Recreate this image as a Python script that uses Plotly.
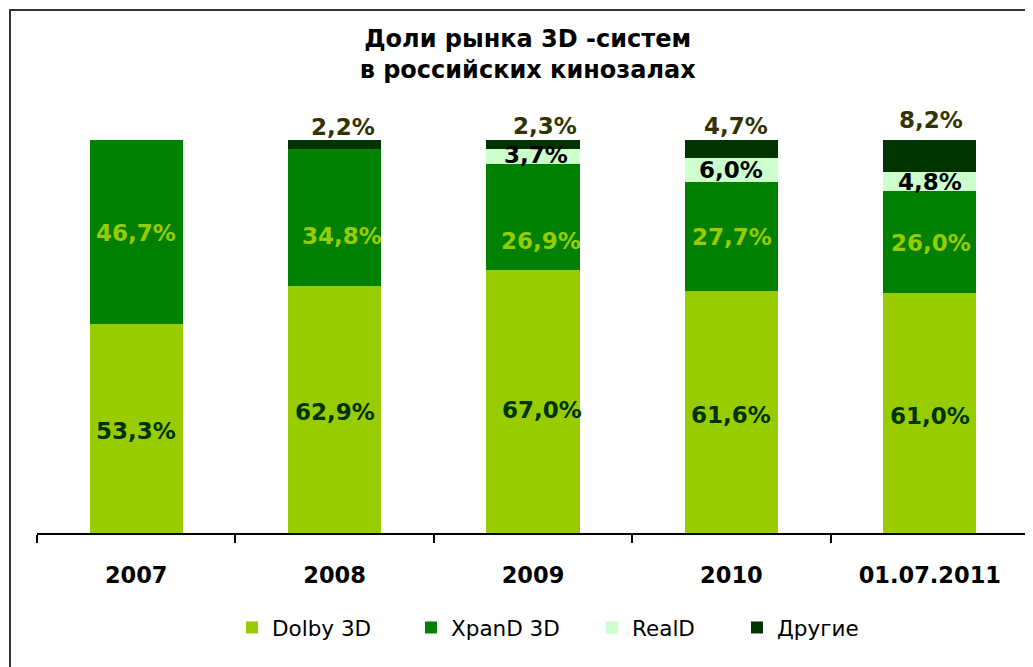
import plotly.graph_objects as go

categories = ["2007", "2008", "2009", "2010", "01.07.2011"]
dolby = [53.3, 62.9, 67.0, 61.6, 61.0]
xpand = [46.7, 34.8, 26.9, 27.7, 26.0]
reald = [0.0, 0.0, 3.7, 6.0, 4.8]
other = [0.0, 2.2, 2.3, 4.7, 8.2]

series_names = ["Dolby 3D", "XpanD 3D", "RealD", "Другие"]
series_values = [dolby, xpand, reald, other]
bar_colors = ["#99CC00", "#008000", "#CCFFCC", "#003300"]
label_colors = ["#003300", "#99CC00", "#000000", "#333300"]

# hand-placed label nudges in the reference (pixels: dx right, dy up)
label_dx = [
    [0, 0, 9, 0, 0],
    [0, 7, 8, 1, 1],
    [0, 0, 3, 0, 0],
    [0, 8, 12, 5, 1],
]
label_dy = [
    [-3, -3, -9, -3, -3],
    [-1, -19, -24, -1, -1],
    [0, 0, 2, 0, 0],
    [0, -1, 0, 0, 6],
]

FONT = "DejaVu Sans"
LABEL_SIZE = 23


def fmt(v):
    return f"{v:.1f}%".replace(".", ",")


legend_ids = ["legend", "legend2", "legend3", "legend4"]
fig = go.Figure()
for name, vals, col, lg in zip(series_names, series_values, bar_colors, legend_ids):
    fig.add_trace(go.Bar(
        name=name,
        x=categories,
        y=[v / 100 for v in vals],
        marker=dict(color=col, line=dict(width=0)),
        hoverinfo="skip",
        legend=lg,
    ))

# data labels, positioned from the stacked values (x = category index on the category axis)
annotations = []
base = [0.0] * len(categories)
for si, vals in enumerate(series_values):
    last = si == len(series_values) - 1
    for ci, v in enumerate(vals):
        if v == 0:
            continue
        if last:
            y = (base[ci] + v) / 100
            yanchor = "bottom"
            dy = label_dy[si][ci] - 1
        else:
            y = (base[ci] + v / 2) / 100
            yanchor = "middle"
            dy = label_dy[si][ci]
        annotations.append(dict(
            x=ci, y=y, xref="x", yref="y",
            text=f"<b>{fmt(v)}</b>", showarrow=False,
            xanchor="center", yanchor=yanchor,
            xshift=label_dx[si][ci], yshift=dy,
            font=dict(family=FONT, size=LABEL_SIZE, color=label_colors[si]),
        ))
    base = [b + v for b, v in zip(base, vals)]

W, H = 1025, 659
ML, MR, MT, MB = 29, 4, 132, 134
plot_w = W - ML - MR
plot_h = H - MT - MB


def legend_at(px_x):
    # px_x is the viewport pixel of the legend item start
    return dict(
        orientation="h",
        x=(px_x - 8 - ML) / plot_w, xanchor="left",
        y=-74 / plot_h, yanchor="top",
        font=dict(family=FONT, size=21.5, color="black"),
        bgcolor="rgba(0,0,0,0)",
    )


fig.update_layout(
    width=W, height=H,
    barmode="stack",
    bargap=0.53,
    paper_bgcolor="white",
    plot_bgcolor="white",
    margin=dict(l=ML, r=MR, t=MT, b=MB),
    font=dict(family=FONT, color="black"),
    title=dict(
        text="<b>Доли рынка 3D -систем<br>в российских кинозалах</b>",
        x=0.507, xanchor="center",
        y=1 - 39 / H, yanchor="top", yref="container",
        font=dict(family=FONT, size=24, color="black"),
    ),
    xaxis=dict(
        type="category",
        range=[-0.5, 4.5],
        showline=True, linecolor="black", linewidth=1.5,
        ticks="outside", tickson="boundaries", ticklen=8, tickcolor="black", tickwidth=1.5,
        tickfont=dict(family=FONT, size=22.5, color="black", weight="bold"),
        ticklabelstandoff=21,
        showgrid=False, zeroline=False,
    ),
    yaxis=dict(
        range=[0, 1],
        visible=False,
        showgrid=False, zeroline=False,
    ),
    showlegend=True,
    legend=legend_at(232),
    legend2=legend_at(411),
    legend3=legend_at(592),
    legend4=legend_at(737),
    annotations=annotations,
    shapes=[dict(
        type="rect", xref="paper", yref="paper",
        xsizemode="pixel", ysizemode="pixel",
        xanchor=0, yanchor=1,
        x0=-27, x1=1200, y0=130, y1=-700,
        line=dict(color="#333333", width=2),
        fillcolor="rgba(0,0,0,0)",
        layer="above",
    )],
)

fig.write_html("out.html")
